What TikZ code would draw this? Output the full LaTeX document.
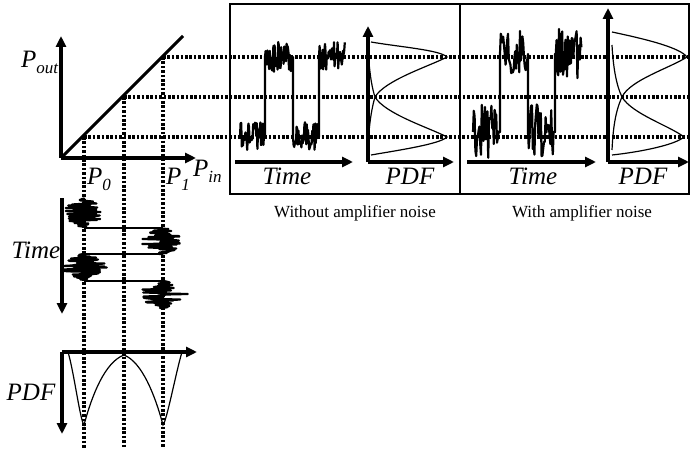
\documentclass[tikz,border=0pt]{standalone}
\usepackage{fontspec}
\setmainfont{Liberation Serif}
\usetikzlibrary{arrows.meta}

\newcommand{\plbl}[2]{\textit{#1}\raisebox{-0.45ex}{\fontsize{17}{17}\selectfont\textit{#2}}}

\tikzset{
  axis/.style={line width=3.6pt, -{Triangle[length=11pt,width=10pt]}},
  level/.style={line width=3.2pt, dash pattern=on 2.6pt off 1.8pt},
  pdfcurve/.style={line width=1.2pt},
  noise/.style={line width=2.2pt, line join=round},
  jump/.style={line width=1.8pt},
  biglabel/.style={font=\fontsize{25}{25}\selectfont\itshape, anchor=base},
  caption/.style={font=\fontsize{17}{17}\selectfont, anchor=base},
}

\begin{document}
\begin{tikzpicture}[x=1pt, y=-1pt]
    \useasboundingbox (0,0) rectangle (690,449);
    \pgfmathsetseed{11}

    % transfer curve
    \coordinate (o) at (61,158);
    \coordinate (a0) at (84,137);
    \coordinate (am) at (124,97);
    \coordinate (a1) at (163,57);
    \draw[line width=3pt] (o) -- (183,36);
    \draw[axis] (o) -- (61,36);
    \draw[axis] (o) -- (196,158);
    \node[anchor=base west, inner sep=0pt] (pout) at (21,68) {\fontsize{25}{25}\selectfont\plbl{P}{out}};
    \node[anchor=base west, inner sep=0pt] (p0) at (87,185) {\fontsize{25}{25}\selectfont\plbl{P}{0}};
    \node[anchor=base west, inner sep=0pt] (p1) at (166,185) {\fontsize{25}{25}\selectfont\plbl{P}{1}};
    \node[anchor=base west, inner sep=0pt] (pin) at (193,177) {\fontsize{25}{25}\selectfont\plbl{P}{in}};

    % dotted levels
    \foreach \c in {a0,am,a1} {
        \draw[level] (\c) -- (\c |- 0,449);
        \draw[level] (\c) -- (690,0 |- \c);
    }

    % time trace on the input side
    \draw[axis] (62,198) -- (62,314);
    \node[biglabel] (tleft) at (36,258) {Time};
    \draw[noise] (84,198) \foreach \y in {198.5,199,...,227} { -- ({84+(4+20*sin(180*(\y-198)/29))*rand},\y) } -- (84,228);
    \draw[jump] (84,228) -- (163,228);
    \draw[noise] (163,228) \foreach \y in {228.5,229,...,254} { -- ({163+(4+18*sin(180*(\y-228)/26))*rand},\y) } -- (163,254);
    \draw[jump] (163,254) -- (84,254);
    \draw[noise] (84,254) \foreach \y in {254.5,255,...,280} { -- ({84+(4+20*sin(180*(\y-254)/26))*rand},\y) } -- (84,281);
    \draw[jump] (84,281) -- (163,281);
    \draw[noise] (163,281) \foreach \y in {281.5,282,...,308} { -- ({163+(4+22*sin(180*(\y-281)/27))*rand},\y) } -- (163,308);

    % pdf on the input side
    \draw[axis] (62,352) -- (197,352);
    \draw[axis] (62,352) -- (62,434);
    \node[biglabel] (pdfleft) at (31,400) {PDF};
    \draw[pdfcurve] (68,352) .. controls (74,372) and (80,420) .. (84,425)
        .. controls (92,395) and (105,362) .. (124,355);
    \draw[pdfcurve] (124,355) .. controls (142,362) and (155,395) .. (163,425)
        .. controls (167,420) and (176,372) .. (182,352);

    % output boxes
    \draw[line width=1.4pt] (230,4) rectangle (689,194);
    \draw[line width=1.4pt] (460,4) -- (460,194);

    % without amplifier noise
    \draw[axis] (235,162) -- (353,162);
    \draw[axis] (368,162) -- (368,26);
    \draw[axis] (368,162) -- (454,162);
    \draw[noise] (240,137) \foreach \x in {240.6,241.2,...,264} { -- (\x,{136+14*rand}) } -- (265,137) -- (265,57)
        \foreach \x in {265.6,266.2,...,291} { -- (\x,{57+15*rand}) } -- (293,57) -- (293,137)
        \foreach \x in {293.6,294.2,...,318} { -- (\x,{136+14*rand}) } -- (319,137) -- (319,57)
        \foreach \x in {319.6,320.2,...,345} { -- (\x,{57+15*rand}) };
    \draw[pdfcurve] (371,42) .. controls (400,47) and (440,50) .. (447,57)
        .. controls (430,66) and (385,80) .. (375,97) .. controls (372,107) and (370,120) .. (369,132);
    \draw[pdfcurve] (369,62) .. controls (370,75) and (372,88) .. (375,97)
        .. controls (385,114) and (430,128) .. (447,137) .. controls (440,144) and (400,150) .. (371,155);
    \node[biglabel] (t1) at (287,184) {Time};
    \node[biglabel] (pdf1) at (410,184) {PDF};
    \node[caption] (cap1) at (355,217) {Without amplifier noise};

    % with amplifier noise
    \draw[axis] (467,162) -- (596,162);
    \draw[axis] (608,162) -- (608,8);
    \draw[axis] (608,162) -- (689,162);
    \draw[noise] (473,132) \foreach \x in {473.8,474.6,...,499} { -- (\x,{131+27*rand}) } -- (500,132) -- (500,54)
        \foreach \x in {500.8,501.6,...,527} { -- (\x,{54+26*rand}) } -- (528,54) -- (528,132)
        \foreach \x in {528.8,529.6,...,554} { -- (\x,{131+27*rand}) } -- (555,132) -- (555,54)
        \foreach \x in {555.8,556.6,...,582} { -- (\x,{54+26*rand}) };
    \draw[pdfcurve] (612,32) .. controls (650,40) and (680,48) .. (687,57)
        .. controls (670,68) and (630,80) .. (622,97) .. controls (615,112) and (613,130) .. (612,150);
    \draw[pdfcurve] (612,45) .. controls (613,65) and (616,85) .. (622,97)
        .. controls (632,114) and (670,126) .. (684,137) .. controls (675,145) and (640,152) .. (612,155);
    \node[biglabel] (t2) at (533,184) {Time};
    \node[biglabel] (pdf2) at (643,184) {PDF};
    \node[caption] (cap2) at (582,217) {With amplifier noise};
\end{tikzpicture}
\end{document}
